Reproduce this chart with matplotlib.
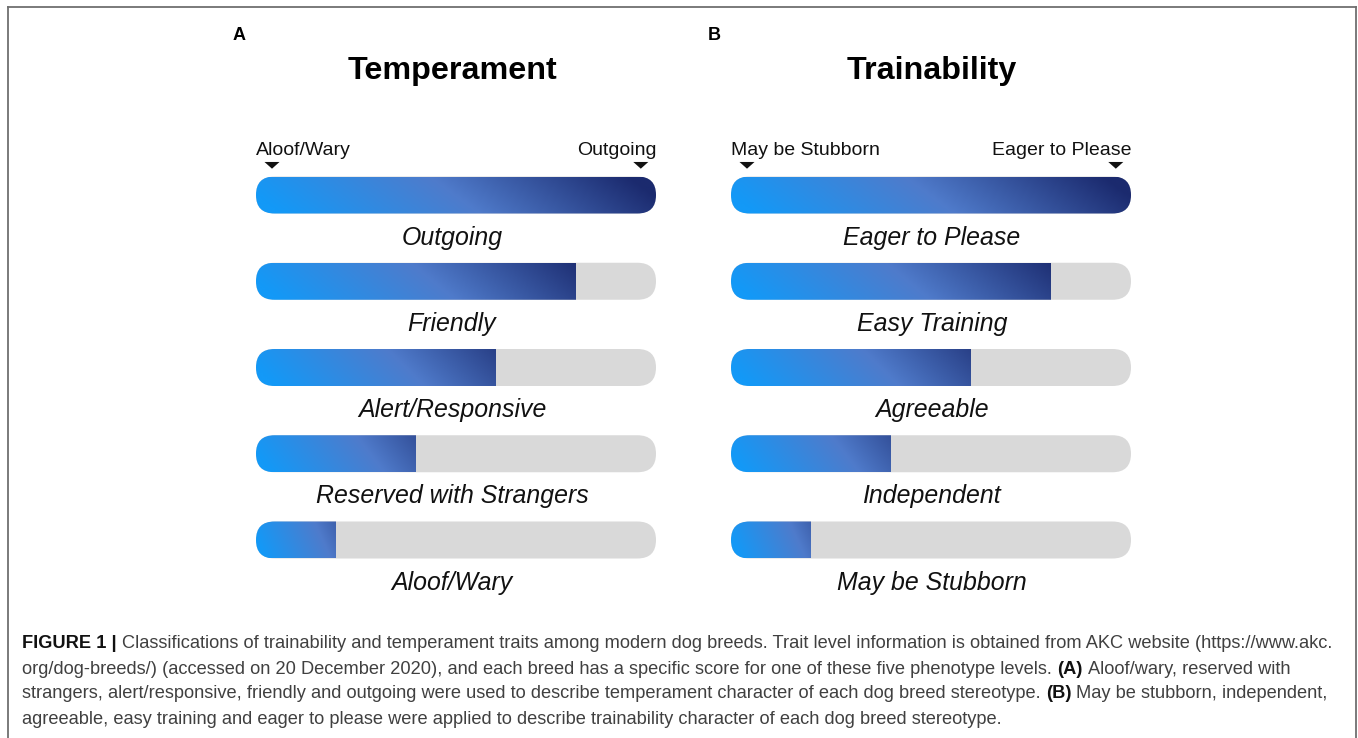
import matplotlib
matplotlib.use('Agg')
import matplotlib.pyplot as plt
import numpy as np
from matplotlib.patches import FancyBboxPatch, Polygon
from matplotlib.colors import LinearSegmentedColormap
from matplotlib.lines import Line2D

plt.rcParams['font.family'] = ['Liberation Sans', 'DejaVu Sans']

# data
max_score = 5
temperament_levels = ['Outgoing', 'Friendly', 'Alert/Responsive',
                      'Reserved with Strangers', 'Aloof/Wary']
temperament_scores = [5, 4, 3, 2, 1]
temperament_ends = ['Aloof/Wary', 'Outgoing']

trainability_levels = ['Eager to Please', 'Easy Training', 'Agreeable',
                       'Independent', 'May be Stubborn']
trainability_scores = [5, 4, 3, 2, 1]
trainability_ends = ['May be Stubborn', 'Eager to Please']

caption = [
    [('FIGURE 1 |', True),
     ('Classifications of trainability and temperament traits among modern dog breeds. '
      'Trait level information is obtained from AKC website (https://www.akc.', False)],
    [('org/dog-breeds/) (accessed on 20 December 2020), and each breed has a specific '
      'score for one of these five phenotype levels.', False),
     ('(A)', True), ('Aloof/wary, reserved with', False)],
    [('strangers, alert/responsive, friendly and outgoing were used to describe temperament '
      'character of each dog breed stereotype.', False),
     ('(B)', True), ('May be stubborn, independent,', False)],
    [('agreeable, easy training and eager to please were applied to describe trainability '
      'character of each dog breed stereotype.', False)],
]

W, H = 1358, 738
fig = plt.figure(figsize=(W / 100, H / 100), dpi=100)

bar_cmap = LinearSegmentedColormap.from_list('bar', ['#1399f7', '#4f7bcb', '#1b2a6e'])

row_px = 86.25
bar_w_px = 400
unit_px = bar_w_px / max_score
bar_h = 37 / row_px
round_r = 18.5 / unit_px
aspect = unit_px / row_px


def panel(x0, letter, title, ends, levels, scores, lab_shift):
    ax = fig.add_axes([x0 / W, 1 - (195 + 5 * row_px) / H,
                       bar_w_px / W, 6 * row_px / H])
    for i, (lab, s) in enumerate(zip(levels, scores)):
        bg = FancyBboxPatch((0, i - bar_h / 2), max_score, bar_h,
                            boxstyle=f'round,pad=0,rounding_size={round_r}',
                            mutation_aspect=aspect, fc='#d9d9d9', ec='none', zorder=1)
        ax.add_patch(bg)
        end = 0.5 + 0.5 * s / max_score
        gx = np.linspace(0, end, 300)
        gy = np.linspace(-1, 1, 30)
        grad = np.clip(gx[None, :] - 0.06 * gy[:, None], 0, 1)
        im = ax.imshow(grad, cmap=bar_cmap, vmin=0, vmax=1, aspect='auto',
                       extent=[0, s, i + bar_h / 2, i - bar_h / 2],
                       interpolation='bilinear', zorder=2)
        im.set_clip_path(bg)
        ax.text(max_score / 2 + lab_shift, i + 0.495, lab, ha='center', va='center',
                style='italic', fontsize=17.9, color='#111111')

    # end labels with down-pointing markers
    ax.text(0, -0.52, ends[0], ha='left', va='center', fontsize=14, color='#111111')
    ax.text(max_score + 0.01, -0.52, ends[1], ha='right', va='center',
            fontsize=14, color='#111111')
    for tx in (0.2, 4.81):
        ax.add_patch(Polygon([[tx - 0.094, -0.383], [tx + 0.094, -0.383], [tx, -0.305]],
                             closed=True, fc='#111111', ec='none'))

    ax.set_xlim(0, max_score)
    ax.set_ylim(5, -1)
    ax.axis('off')

    fig.text((x0 - 17) / W, 1 - 35.5 / H, letter, ha='center', va='center',
             fontsize=13, fontweight='bold')
    fig.text((x0 + bar_w_px / 2 + lab_shift * unit_px) / W, 1 - 71 / H, title,
             ha='center', va='center', fontsize=23.2, fontweight='bold')


panel(256, 'A', 'Temperament', temperament_ends, temperament_levels,
      temperament_scores, -0.05)
panel(731, 'B', 'Trainability', trainability_ends, trainability_levels,
      trainability_scores, 0.01)

# outer frame
for xs, ys in [([7.5, 7.5], [738, 6.5]), ([7.5, 1355.5], [6.5, 6.5]),
               ([1355.5, 1355.5], [6.5, 738])]:
    fig.add_artist(Line2D([x / W for x in xs], [1 - y / H for y in ys],
                          transform=fig.transFigure, color='#707070', lw=1.3))

# caption
renderer = fig.canvas.get_renderer()
cap_size = 13.15


def text_width(s, bold):
    t = fig.text(0, 0, s, fontsize=cap_size, fontweight='bold' if bold else 'normal')
    w = t.get_window_extent(renderer=renderer).width
    t.remove()
    return w


space_w = text_width('a a', False) - text_width('aa', False)
for li, parts in enumerate(caption):
    x = 22
    y = 644 + 25 * li
    for txt, bold in parts:
        t = fig.text(x / W, 1 - y / H, txt, fontsize=cap_size, va='center',
                     fontweight='bold' if bold else 'normal',
                     color='#111111' if bold else '#404040')
        x += t.get_window_extent(renderer=renderer).width + space_w

fig.savefig('out.png', dpi=100)
